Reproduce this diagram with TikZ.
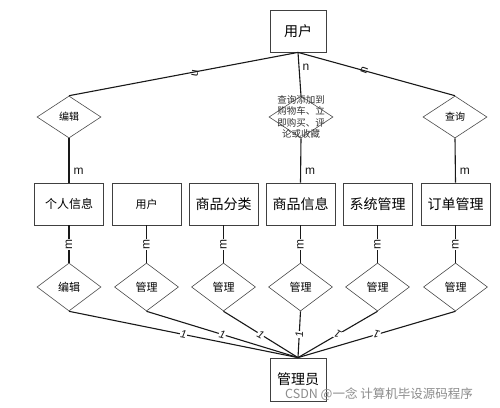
\documentclass[tikz,border=0pt]{standalone}
\usepackage{fontspec}
\setmainfont{Liberation Sans}
\newfontfamily\cjk{Noto Sans CJK SC}
\usetikzlibrary{shapes.geometric}
\begin{document}
\begin{tikzpicture}[x=1pt,y=-1pt,
  ent/.style={draw=black!75,line width=0.8pt,minimum width=69pt,minimum height=42pt,inner sep=0pt,font=\cjk\fontsize{13}{15}\selectfont},
  rel/.style={draw=black!70,line width=0.6pt,diamond,minimum width=64pt,minimum height=42pt,inner sep=0pt,font=\cjk\fontsize{10}{12}\selectfont},
  relb/.style={rel,minimum height=48pt,font=\cjk\fontsize{11}{13}\selectfont},
  conn/.style={line width=1.1pt,black!90},
  card/.style={font=\fontsize{12}{13}\selectfont,inner sep=0pt},
  one/.style={card,pos=0.5,fill=white,inner sep=0.5pt,font=\itshape\fontsize{11}{12}\selectfont}
]
\useasboundingbox[fill=white] (0,0) rectangle (500,407);
% top user
\node[ent,minimum width=56pt,font=\cjk\fontsize{14}{16}\selectfont] (user) at (298,31) {用户};
% top relations
\node[rel] (r1) at (69,117) {编辑};
\node[rel,label={[font=\cjk\fontsize{9.5}{11.5}\selectfont,align=center,text=black!80]center:查询添加到\\购物车、立\\即购买、评\\论或收藏}] (r2) at (301,117) {};
\node[rel] (r3) at (455,117) {查询};
% entities row
\node[ent,font=\cjk\fontsize{12}{14}\selectfont] (e1) at (69,204) {个人信息};
\node[ent,font=\cjk\fontsize{11}{13}\selectfont] (e2) at (146.5,204) {用户};
\node[ent,font=\cjk\fontsize{14}{16}\selectfont] (e3) at (223.5,204) {商品分类};
\node[ent,font=\cjk\fontsize{14}{16}\selectfont] (e4) at (300.5,204) {商品信息};
\node[ent,font=\cjk\fontsize{14}{16}\selectfont] (e5) at (377.5,204) {系统管理};
\node[ent,font=\cjk\fontsize{14}{16}\selectfont] (e6) at (455.5,204) {订单管理};
% bottom relations
\node[relb] (b1) at (69,287) {编辑};
\node[relb] (b2) at (146.5,287) {管理};
\node[relb] (b3) at (223.5,287) {管理};
\node[relb] (b4) at (300.5,287) {管理};
\node[relb] (b5) at (377.5,287) {管理};
\node[relb] (b6) at (455.5,287) {管理};
% admin
\node[ent,minimum width=56pt,minimum height=43pt,font=\cjk\fontsize{14}{16}\selectfont] (admin) at (298,379.5) {管理员};
% connectors top
\draw[conn] (user.south) -- (r1.north) node[card,pos=0.47,rotate=-100,above=1pt] {n};
\draw[conn] (user.south) -- (r2.north) node[card,pos=0.35,right=3pt] {n};
\draw[conn] (user.south) -- (r3.north) node[card,pos=0.45,rotate=70,above=1pt] {n};
\draw[conn] (r1.south) -- (e1.north) node[card,pos=0.75,right=4pt] {m};
\draw[conn] (r2.south) -- (e4.north) node[card,pos=0.75,right=4pt] {m};
\draw[conn] (r3.south) -- (e6.north) node[card,pos=0.75,right=4pt] {m};
% entity to bottom relation
\foreach \i in {1,...,6}{
  \draw[conn] (e\i.south) -- (b\i.north) node[card,midway,fill=white,rotate=90,inner sep=0.5pt] {m};
}
% bottom to admin
\draw[conn] (b1.south) -- (admin.north) node[one,rotate=-10] {1};
\draw[conn] (b2.south) -- (admin.north) node[one,rotate=-15] {1};
\draw[conn] (b3.south) -- (admin.north) node[one,rotate=-30] {1};
\draw[conn] (b4.south) -- (admin.north) node[one,rotate=90] {1};
\draw[conn] (b5.south) -- (admin.north) node[one,rotate=150] {1};
\draw[conn] (b6.south) -- (admin.north) node[one,rotate=165] {1};
% watermark
\node[font=\cjk\fontsize{12.5}{14}\selectfont,text=black!45,anchor=west,inner sep=0pt] (wm) at (285,394) {CSDN @一念 计算机毕设源码程序};
\end{tikzpicture}
\end{document}
